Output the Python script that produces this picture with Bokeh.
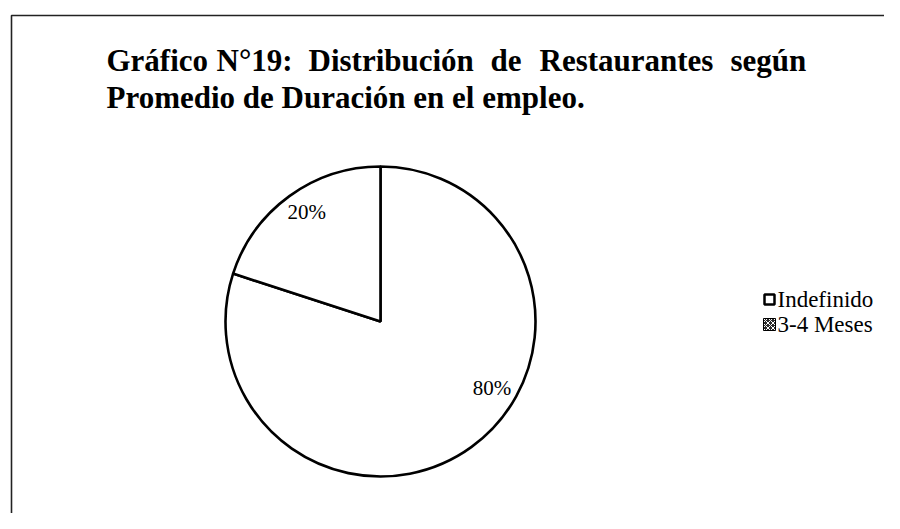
from bokeh.plotting import figure
from bokeh.models import Range1d, ColumnDataSource
from bokeh.core.properties import value
from bokeh.embed import file_html
from bokeh.resources import INLINE
import math

# ---- data ----
categories = ["Indefinido", "3-4 Meses"]
percent = [80, 20]
pct_labels = ["80%", "20%"]
title_line1 = ["Gráfico", "N°19:", "Distribución", "de", "Restaurantes", "según"]
title_line2 = "Promedio de Duración en el empleo."

W, H = 884, 513
p = figure(width=W, height=H, output_backend="svg", toolbar_location=None,
           x_range=Range1d(0, W), y_range=Range1d(0, H),
           min_border=0, outline_line_color=None)
p.axis.visible = False
p.grid.visible = False
p.background_fill_color = "white"
p.border_fill_color = "white"

def sy(y):  # picture y -> data y
    return H - y

# frame of the scanned page
p.line(x=[11, 11, 900], y=[sy(540), sy(15), sy(15)], line_color="#222222", line_width=1.6)

# title (justified first line)
serif = value("Liberation Serif")
t1_x = [106, 216, 308, 490, 539, 730]
p.text(x=t1_x, y=[sy(60)] * len(t1_x), text=title_line1, text_font=serif,
       text_font_size="31px", text_font_style="bold", text_color="black",
       text_baseline="alphabetic", text_align="left")
p.text(x=[106], y=[sy(97)], text=[title_line2], text_font=serif,
       text_font_size="31px", text_font_style="bold", text_color="black",
       text_baseline="alphabetic", text_align="left")

# pie
cx, cy, R = 380, sy(321), 155
total = sum(percent)
starts, ends = [], []
a = math.pi / 2
for v in percent:
    starts.append(a)
    a2 = a - 2 * math.pi * v / total
    ends.append(a2)
    a = a2
src = ColumnDataSource(dict(cat=categories, start=starts, end=ends))
p.wedge(x=cx, y=cy, radius=R, radius_units="screen", start_angle="start", end_angle="end",
        direction="clock", fill_color="white", line_color="black", line_width=2.6, source=src)

# percent labels placed along angle/radius from the centre
label_ang_deg = [-31, 124]
label_rad = [130, 132]
lx = [cx + r * math.cos(math.radians(d)) for r, d in zip(label_rad, label_ang_deg)]
ly = [cy + r * math.sin(math.radians(d)) for r, d in zip(label_rad, label_ang_deg)]
p.text(x=lx, y=ly, text=pct_labels, text_font=serif, text_font_size="21px",
       text_color="black", text_align="center", text_baseline="middle")

# legend
leg_y = [sy(299), sy(324)]
p.rect(x=[769], y=[leg_y[0]], width=10, height=10, width_units="screen", height_units="screen",
       fill_color="white", line_color="black", line_width=2.5)
p.rect(x=[769], y=[leg_y[1]], width=12, height=12, width_units="screen", height_units="screen",
       fill_color="#2a2a2a", line_color="black", line_width=1,
       hatch_pattern="x", hatch_color="white", hatch_scale=5, hatch_weight=1)
p.text(x=[777, 777], y=leg_y, text=categories, text_font=serif, text_font_size="23px",
       text_color="black", text_align="left", text_baseline="middle")

open("out.html", "w").write(file_html(p, INLINE))
